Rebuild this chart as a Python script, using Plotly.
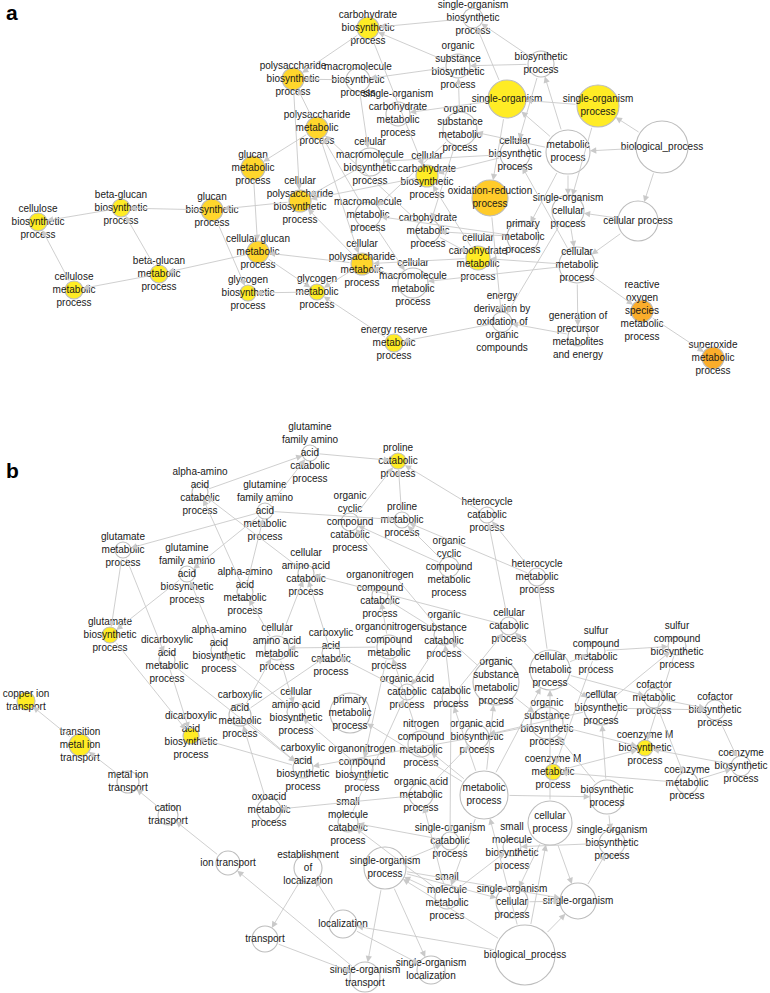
import plotly.graph_objects as go

# ---------------- Panel a data ----------------
A_LABELS = [
    "carbohydrate<br>biosynthetic<br>process",
    "single-organism<br>biosynthetic<br>process",
    "organic<br>substance<br>biosynthetic<br>process",
    "biosynthetic<br>process",
    "polysaccharide<br>biosynthetic<br>process",
    "macromolecule<br>biosynthetic<br>process",
    "single-organism",
    "single-organism<br>process",
    "single-organism<br>carbohydrate<br>metabolic<br>process",
    "polysaccharide<br>metabolic<br>process",
    "organic<br>substance<br>metabolic<br>process",
    "cellular<br>macromolecule<br>biosynthetic<br>process",
    "metabolic<br>process",
    "biological_process",
    "cellular<br>biosynthetic<br>process",
    "glucan<br>metabolic<br>process",
    "cellular<br>carbohydrate<br>biosynthetic<br>process",
    "oxidation-reduction<br>process",
    "single-organism<br>cellular<br>process",
    "cellular<br>polysaccharide<br>biosynthetic<br>process",
    "macromolecule<br>metabolic<br>process",
    "beta-glucan<br>biosynthetic<br>process",
    "glucan<br>biosynthetic<br>process",
    "cellulose<br>biosynthetic<br>process",
    "cellular process",
    "cellular glucan<br>metabolic<br>process",
    "carbohydrate<br>metabolic<br>process",
    "primary<br>metabolic<br>process",
    "cellular<br>carbohydrate<br>metabolic<br>process",
    "cellular<br>polysaccharide<br>metabolic<br>process",
    "cellular<br>macromolecule<br>metabolic<br>process",
    "cellular<br>metabolic<br>process",
    "beta-glucan<br>metabolic<br>process",
    "cellulose<br>metabolic<br>process",
    "glycogen<br>biosynthetic<br>process",
    "glycogen<br>metabolic<br>process",
    "energy<br>derivation by<br>oxidation of<br>organic<br>compounds",
    "generation of<br>precursor<br>metabolites<br>and energy",
    "reactive<br>oxygen<br>species<br>metabolic<br>process",
    "superoxide<br>metabolic<br>process",
    "energy reserve<br>metabolic<br>process",
]
# enrichment level: 0 = not enriched, 1 = yellow, 2 = gold, 3 = dark gold, 4 = orange
A_LEVEL = [1, 0, 0, 0, 2, 0, 1, 1, 0, 2, 0, 0, 0, 0, 0, 2, 1, 3, 0, 2, 0,
           1, 2, 1, 0, 2, 0, 0, 1, 2, 0, 0, 1, 1, 1, 1, 0, 0, 4, 4, 1]
# node weight (drawn as circle radius)
A_SIZE = [11, 10, 12, 13, 11, 12, 19, 21, 12, 11, 17, 14, 22, 26, 15, 12, 11, 18, 16, 11, 13,
          9, 11, 9, 20, 11, 12, 16, 12, 11, 15, 18, 9, 9, 8, 8, 10, 10, 11, 11, 9]
# layout coordinates
A_X = [368, 473, 458, 541, 293, 358, 507, 598, 398, 317, 460, 370, 568, 662, 515, 253, 427, 490, 568, 300, 368,
       121, 212, 38, 638, 258, 428, 523, 478, 362, 413, 577, 159, 74, 248, 317, 502, 578, 642, 713, 394]
A_Y = [28, 18, 66, 64, 79, 80, 99, 106, 114, 128, 129, 162, 152, 147, 154, 168, 176, 198, 211, 201, 215,
       208, 210, 222, 221, 252, 231, 237, 258, 264, 283, 265, 274, 290, 293, 292, 322, 336, 311, 358, 343]

A_EDGES = [
    ("biological_process", "metabolic process"),
    ("biological_process", "single-organism process"),
    ("biological_process", "cellular process"),
    ("single-organism process", "single-organism"),
    ("metabolic process", "single-organism"),
    ("metabolic process", "biosynthetic process"),
    ("metabolic process", "organic substance metabolic process"),
    ("metabolic process", "primary metabolic process"),
    ("metabolic process", "single-organism cellular process"),
    ("single-organism process", "single-organism cellular process"),
    ("cellular process", "single-organism cellular process"),
    ("cellular process", "cellular metabolic process"),
    ("single-organism cellular process", "cellular metabolic process"),
    ("biosynthetic process", "cellular biosynthetic process"),
    ("biosynthetic process", "organic substance biosynthetic process"),
    ("biosynthetic process", "single-organism biosynthetic process"),
    ("single-organism", "single-organism biosynthetic process"),
    ("single-organism biosynthetic process", "carbohydrate biosynthetic process"),
    ("organic substance biosynthetic process", "carbohydrate biosynthetic process"),
    ("organic substance biosynthetic process", "macromolecule biosynthetic process"),
    ("organic substance metabolic process", "organic substance biosynthetic process"),
    ("carbohydrate biosynthetic process", "polysaccharide biosynthetic process"),
    ("macromolecule biosynthetic process", "polysaccharide biosynthetic process"),
    ("macromolecule biosynthetic process", "cellular macromolecule biosynthetic process"),
    ("cellular biosynthetic process", "cellular macromolecule biosynthetic process"),
    ("polysaccharide biosynthetic process", "cellular polysaccharide biosynthetic process"),
    ("polysaccharide metabolic process", "polysaccharide biosynthetic process"),
    ("polysaccharide metabolic process", "glucan metabolic process"),
    ("polysaccharide metabolic process", "cellular polysaccharide metabolic process"),
    ("carbohydrate metabolic process", "polysaccharide metabolic process"),
    ("single-organism", "single-organism carbohydrate metabolic process"),
    ("glucan metabolic process", "cellular glucan metabolic process"),
    ("glucan biosynthetic process", "beta-glucan biosynthetic process"),
    ("beta-glucan biosynthetic process", "cellulose biosynthetic process"),
    ("beta-glucan metabolic process", "beta-glucan biosynthetic process"),
    ("cellulose metabolic process", "cellulose biosynthetic process"),
    ("beta-glucan metabolic process", "cellulose metabolic process"),
    ("cellular glucan metabolic process", "beta-glucan metabolic process"),
    ("glucan biosynthetic process", "glycogen biosynthetic process"),
    ("cellular glucan metabolic process", "glycogen metabolic process"),
    ("glycogen metabolic process", "glycogen biosynthetic process"),
    ("cellular polysaccharide biosynthetic process", "glucan biosynthetic process"),
    ("cellular carbohydrate biosynthetic process", "cellular polysaccharide biosynthetic process"),
    ("cellular polysaccharide metabolic process", "cellular glucan metabolic process"),
    ("cellular polysaccharide metabolic process", "cellular polysaccharide biosynthetic process"),
    ("cellular polysaccharide metabolic process", "glycogen metabolic process"),
    ("energy reserve metabolic process", "glycogen metabolic process"),
    ("energy derivation by oxidation of organic compounds", "energy reserve metabolic process"),
    ("generation of precursor metabolites and energy", "energy derivation by oxidation of organic compounds"),
    ("cellular metabolic process", "generation of precursor metabolites and energy"),
    ("cellular metabolic process", "reactive oxygen species metabolic process"),
    ("reactive oxygen species metabolic process", "superoxide metabolic process"),
    ("oxidation-reduction process", "energy derivation by oxidation of organic compounds"),
    ("single-organism cellular process", "energy derivation by oxidation of organic compounds"),
    ("single-organism", "oxidation-reduction process"),
    ("primary metabolic process", "carbohydrate metabolic process"),
    ("carbohydrate metabolic process", "cellular carbohydrate metabolic process"),
    ("cellular metabolic process", "cellular carbohydrate metabolic process"),
    ("cellular metabolic process", "cellular macromolecule metabolic process"),
    ("organic substance metabolic process", "macromolecule metabolic process"),
    ("macromolecule metabolic process", "cellular macromolecule metabolic process"),
    ("primary metabolic process", "macromolecule metabolic process"),
    ("cellular metabolic process", "cellular biosynthetic process"),
    ("organic substance metabolic process", "carbohydrate metabolic process"),
    ("cellular biosynthetic process", "cellular carbohydrate biosynthetic process"),
    ("carbohydrate biosynthetic process", "cellular carbohydrate biosynthetic process"),
    ("cellular carbohydrate metabolic process", "cellular carbohydrate biosynthetic process"),
    ("macromolecule metabolic process", "polysaccharide metabolic process"),
    ("cellular macromolecule metabolic process", "cellular polysaccharide metabolic process"),
    ("cellular carbohydrate metabolic process", "cellular polysaccharide metabolic process"),
    ("cellular macromolecule biosynthetic process", "cellular polysaccharide biosynthetic process"),
]

# ---------------- Panel b data ----------------
B_LABELS = [
    "glutamine<br>family amino<br>acid<br>catabolic<br>process",
    "proline<br>catabolic<br>process",
    "alpha-amino<br>acid<br>catabolic<br>process",
    "glutamine<br>family amino<br>acid<br>metabolic<br>process",
    "organic<br>cyclic<br>compound<br>catabolic<br>process",
    "proline<br>metabolic<br>process",
    "heterocycle<br>catabolic<br>process",
    "glutamate<br>metabolic<br>process",
    "glutamine<br>family amino<br>acid<br>biosynthetic<br>process",
    "alpha-amino<br>acid<br>metabolic<br>process",
    "cellular<br>amino acid<br>catabolic<br>process",
    "organic<br>cyclic<br>compound<br>metabolic<br>process",
    "heterocycle<br>metabolic<br>process",
    "organonitrogen<br>compound<br>catabolic<br>process",
    "cellular<br>catabolic<br>process",
    "organic<br>substance<br>catabolic<br>process",
    "sulfur<br>compound<br>metabolic<br>process",
    "sulfur<br>compound<br>biosynthetic<br>process",
    "glutamate<br>biosynthetic<br>process",
    "dicarboxylic<br>acid<br>metabolic<br>process",
    "alpha-amino<br>acid<br>biosynthetic<br>process",
    "cellular<br>amino acid<br>metabolic<br>process",
    "carboxylic<br>acid<br>catabolic<br>process",
    "organonitrogen<br>compound<br>metabolic<br>process",
    "organic acid<br>catabolic<br>process",
    "catabolic<br>process",
    "organic<br>substance<br>metabolic<br>process",
    "cellular<br>metabolic<br>process",
    "cellular<br>biosynthetic<br>process",
    "cofactor<br>metabolic<br>process",
    "cofactor<br>biosynthetic<br>process",
    "copper ion<br>transport",
    "primary<br>metabolic<br>process",
    "carboxylic<br>acid<br>metabolic<br>process",
    "dicarboxylic<br>acid<br>biosynthetic<br>process",
    "cellular<br>amino acid<br>biosynthetic<br>process",
    "nitrogen<br>compound<br>metabolic<br>process",
    "organic acid<br>biosynthetic<br>process",
    "organic<br>substance<br>biosynthetic<br>process",
    "coenzyme M<br>biosynthetic<br>process",
    "coenzyme<br>biosynthetic<br>process",
    "transition<br>metal ion<br>transport",
    "carboxylic<br>acid<br>biosynthetic<br>process",
    "organonitrogen<br>compound<br>biosynthetic<br>process",
    "coenzyme M<br>metabolic<br>process",
    "coenzyme<br>metabolic<br>process",
    "metal ion<br>transport",
    "oxoacid<br>metabolic<br>process",
    "organic acid<br>metabolic<br>process",
    "metabolic<br>process",
    "biosynthetic<br>process",
    "cation<br>transport",
    "small<br>molecule<br>catabolic<br>process",
    "single-organism<br>catabolic<br>process",
    "small<br>molecule<br>biosynthetic<br>process",
    "cellular<br>process",
    "single-organism<br>biosynthetic<br>process",
    "ion transport",
    "establishment<br>of<br>localization",
    "single-organism<br>process",
    "small<br>molecule<br>metabolic<br>process",
    "single-organism<br>cellular<br>process",
    "single-organism",
    "localization",
    "biological_process",
    "transport",
    "single-organism<br>transport",
    "single-organism<br>localization",
]
B_LEVEL = [0, 1, 0, 0, 0, 0, 0, 0, 0, 0, 0, 0, 0, 0, 0, 0, 0, 0, 1, 0,
           0, 0, 0, 0, 0, 0, 0, 0, 0, 0, 0, 1, 0, 0, 1, 0, 0, 0, 0, 1,
           0, 1, 0, 0, 1, 0, 0, 0, 0, 0, 0, 0, 0, 0, 0, 0, 0, 0, 0, 0,
           0, 0, 0, 0, 0, 0, 0, 0]
B_SIZE = [8, 8, 8, 8, 9, 8, 8, 8, 8, 8, 8, 10, 9, 8, 9, 10, 9, 9, 8, 8,
          8, 12, 9, 12, 8, 9, 23, 20, 17, 10, 10, 9, 20, 11, 8, 9, 13, 12, 16, 8,
          10, 11, 10, 11, 8, 11, 11, 12, 12, 24, 17, 10, 10, 9, 9, 22, 13, 12, 14, 21,
          12, 16, 18, 14, 30, 13, 15, 14]
B_X = [310, 398, 200, 265, 350, 402, 487, 123, 187, 245, 306, 449, 537, 380, 509, 444, 596, 677, 110, 167,
       219, 277, 331, 389, 407, 451, 496, 550, 601, 654, 715, 26, 350, 240, 191, 296, 421, 477, 547, 645,
       741, 80, 303, 362, 553, 687, 128, 269, 421, 484, 607, 168, 348, 450, 512, 550, 612, 228, 308, 385,
       447, 512, 578, 343, 525, 265, 365, 431]
B_Y = [453, 461, 492, 511, 522, 520, 515, 550, 574, 592, 573, 567, 577, 595, 626, 635, 651, 646, 635, 660,
       650, 648, 653, 647, 692, 698, 682, 670, 708, 698, 710, 701, 713, 715, 736, 712, 744, 737, 723, 748,
       766, 745, 768, 769, 772, 783, 782, 810, 795, 795, 797, 815, 822, 841, 847, 823, 843, 863, 868, 868,
       897, 902, 901, 924, 955, 939, 977, 970]

B_EDGES = [
    ("biological_process", "single-organism process"),
    ("biological_process", "localization"),
    ("biological_process", "cellular process"),
    ("biological_process", "single-organism"),
    ("biological_process", "metabolic process"),
    ("localization", "establishment of localization"),
    ("establishment of localization", "transport"),
    ("transport", "single-organism transport"),
    ("single-organism transport", "ion transport"),
    ("single-organism process", "single-organism transport"),
    ("single-organism process", "single-organism localization"),
    ("localization", "single-organism localization"),
    ("ion transport", "cation transport"),
    ("cation transport", "metal ion transport"),
    ("metal ion transport", "transition metal ion transport"),
    ("transition metal ion transport", "copper ion transport"),
    ("small molecule metabolic process", "single-organism process"),
    ("single-organism process", "single-organism cellular process"),
    ("single-organism process", "single-organism"),
    ("single-organism process", "single-organism catabolic process"),
    ("cellular process", "single-organism cellular process"),
    ("cellular process", "single-organism"),
    ("single-organism", "single-organism biosynthetic process"),
    ("single-organism cellular process", "single-organism"),
    ("cellular process", "cellular metabolic process"),
    ("biosynthetic process", "single-organism biosynthetic process"),
    ("biosynthetic process", "cellular biosynthetic process"),
    ("biosynthetic process", "organic substance biosynthetic process"),
    ("metabolic process", "biosynthetic process"),
    ("metabolic process", "organic substance metabolic process"),
    ("metabolic process", "primary metabolic process"),
    ("metabolic process", "cellular metabolic process"),
    ("metabolic process", "small molecule metabolic process"),
    ("metabolic process", "catabolic process"),
    ("metabolic process", "nitrogen compound metabolic process"),
    ("small molecule metabolic process", "organic acid metabolic process"),
    ("cellular metabolic process", "cellular catabolic process"),
    ("cellular metabolic process", "cellular biosynthetic process"),
    ("cellular metabolic process", "sulfur compound metabolic process"),
    ("cellular metabolic process", "cofactor metabolic process"),
    ("cellular metabolic process", "heterocycle metabolic process"),
    ("organic substance metabolic process", "organic substance catabolic process"),
    ("organic substance metabolic process", "organic substance biosynthetic process"),
    ("catabolic process", "organic substance catabolic process"),
    ("catabolic process", "cellular catabolic process"),
    ("catabolic process", "single-organism catabolic process"),
    ("cellular catabolic process", "heterocycle catabolic process"),
    ("heterocycle catabolic process", "proline catabolic process"),
    ("heterocycle metabolic process", "heterocycle catabolic process"),
    ("heterocycle metabolic process", "proline metabolic process"),
    ("organic cyclic compound metabolic process", "organic cyclic compound catabolic process"),
    ("organic cyclic compound metabolic process", "proline metabolic process"),
    ("organic substance catabolic process", "organic cyclic compound catabolic process"),
    ("organic cyclic compound catabolic process", "proline catabolic process"),
    ("proline metabolic process", "proline catabolic process"),
    ("glutamine family amino acid catabolic process", "proline catabolic process"),
    ("alpha-amino acid catabolic process", "glutamine family amino acid catabolic process"),
    ("glutamine family amino acid metabolic process", "glutamine family amino acid catabolic process"),
    ("glutamine family amino acid metabolic process", "proline metabolic process"),
    ("glutamine family amino acid metabolic process", "glutamate metabolic process"),
    ("glutamine family amino acid metabolic process", "glutamine family amino acid biosynthetic process"),
    ("alpha-amino acid metabolic process", "glutamine family amino acid metabolic process"),
    ("alpha-amino acid metabolic process", "alpha-amino acid catabolic process"),
    ("cellular amino acid catabolic process", "alpha-amino acid catabolic process"),
    ("glutamate metabolic process", "glutamate biosynthetic process"),
    ("glutamate metabolic process", "dicarboxylic acid metabolic process"),
    ("glutamine family amino acid biosynthetic process", "glutamate biosynthetic process"),
    ("alpha-amino acid biosynthetic process", "glutamine family amino acid biosynthetic process"),
    ("glutamate biosynthetic process", "dicarboxylic acid biosynthetic process"),
    ("dicarboxylic acid metabolic process", "dicarboxylic acid biosynthetic process"),
    ("carboxylic acid biosynthetic process", "dicarboxylic acid biosynthetic process"),
    ("dicarboxylic acid metabolic process", "carboxylic acid biosynthetic process"),
    ("carboxylic acid metabolic process", "carboxylic acid biosynthetic process"),
    ("carboxylic acid metabolic process", "carboxylic acid catabolic process"),
    ("carboxylic acid metabolic process", "cellular amino acid metabolic process"),
    ("oxoacid metabolic process", "carboxylic acid metabolic process"),
    ("organic acid metabolic process", "oxoacid metabolic process"),
    ("organic acid metabolic process", "organic acid biosynthetic process"),
    ("cellular amino acid metabolic process", "alpha-amino acid metabolic process"),
    ("cellular amino acid metabolic process", "cellular amino acid catabolic process"),
    ("cellular amino acid metabolic process", "cellular amino acid biosynthetic process"),
    ("carboxylic acid catabolic process", "cellular amino acid catabolic process"),
    ("organonitrogen compound metabolic process", "cellular amino acid metabolic process"),
    ("organonitrogen compound metabolic process", "organonitrogen compound catabolic process"),
    ("organonitrogen compound metabolic process", "organonitrogen compound biosynthetic process"),
    ("nitrogen compound metabolic process", "organonitrogen compound metabolic process"),
    ("cellular amino acid biosynthetic process", "alpha-amino acid biosynthetic process"),
    ("organic acid biosynthetic process", "carboxylic acid biosynthetic process"),
    ("organonitrogen compound biosynthetic process", "cellular amino acid biosynthetic process"),
    ("cellular biosynthetic process", "organic acid biosynthetic process"),
    ("organic substance biosynthetic process", "organic acid biosynthetic process"),
    ("organic substance biosynthetic process", "coenzyme M biosynthetic process"),
    ("coenzyme M metabolic process", "coenzyme M biosynthetic process"),
    ("cofactor metabolic process", "coenzyme metabolic process"),
    ("cofactor metabolic process", "cofactor biosynthetic process"),
    ("cofactor biosynthetic process", "coenzyme biosynthetic process"),
    ("coenzyme metabolic process", "coenzyme biosynthetic process"),
    ("coenzyme metabolic process", "coenzyme M metabolic process"),
    ("coenzyme biosynthetic process", "coenzyme M biosynthetic process"),
    ("sulfur compound metabolic process", "sulfur compound biosynthetic process"),
    ("sulfur compound metabolic process", "coenzyme M metabolic process"),
    ("sulfur compound biosynthetic process", "coenzyme M biosynthetic process"),
    ("cellular biosynthetic process", "sulfur compound biosynthetic process"),
    ("cellular biosynthetic process", "cofactor biosynthetic process"),
    ("small molecule metabolic process", "small molecule biosynthetic process"),
    ("small molecule metabolic process", "small molecule catabolic process"),
    ("single-organism catabolic process", "small molecule catabolic process"),
    ("small molecule catabolic process", "organic acid catabolic process"),
    ("organic acid catabolic process", "carboxylic acid catabolic process"),
    ("organic substance catabolic process", "organic acid catabolic process"),
    ("organic substance catabolic process", "organonitrogen compound catabolic process"),
    ("cellular catabolic process", "cellular amino acid catabolic process"),
    ("single-organism biosynthetic process", "small molecule biosynthetic process"),
]

PANEL_LETTERS = ["a", "b"]
PANEL_LETTER_Y = [12, 470]

# ---------------- styles ----------------
LEVEL_COLORS = {0: "#FFFFFF", 1: "#FFEC25", 2: "#FFD62C", 3: "#FFCB2A", 4: "#FBAD2B"}
EDGE_COLOR = "#C9C9C9"
OUTLINE = "#BDBDBD"
FONT = "Liberation Sans, Arial, sans-serif"

fig = go.Figure()


def add_panel(labels, level, size, xs, ys, edges):
    names = [l.replace("<br>", " ") for l in labels]
    idx = {n: i for i, n in enumerate(names)}
    # nodes
    fig.add_trace(go.Scatter(
        x=xs, y=ys, mode="markers",
        marker=dict(size=[2 * s for s in size],
                    color=[LEVEL_COLORS[v] for v in level],
                    line=dict(color=OUTLINE, width=1.1), opacity=1),
        hoverinfo="skip", showlegend=False))
    # edges with arrowheads at the target
    for s, t in edges:
        i, j = idx[s], idx[t]
        fig.add_annotation(
            x=xs[j], y=ys[j], ax=xs[i], ay=ys[i],
            xref="x", yref="y", axref="x", ayref="y",
            text="", showarrow=True, arrowhead=2, arrowsize=1.4,
            arrowwidth=0.9, arrowcolor=EDGE_COLOR,
            standoff=size[j], startstandoff=size[i])
    # labels
    fig.add_trace(go.Scatter(
        x=xs, y=ys, mode="text", text=labels,
        textposition="middle center",
        textfont=dict(family=FONT, size=10, color="#1a1a1a"),
        hoverinfo="skip", showlegend=False))


add_panel(A_LABELS, A_LEVEL, A_SIZE, A_X, A_Y, A_EDGES)
add_panel(B_LABELS, B_LEVEL, B_SIZE, B_X, B_Y, B_EDGES)

for letter, ly in zip(PANEL_LETTERS, PANEL_LETTER_Y):
    fig.add_annotation(x=12, y=ly, xref="x", yref="y", text="<b>%s</b>" % letter,
                       showarrow=False, font=dict(family=FONT, size=21, color="#000000"))

fig.update_xaxes(range=[0, 770], visible=False, fixedrange=True)
fig.update_yaxes(range=[993, 0], visible=False, fixedrange=True)
fig.update_layout(width=770, height=993, margin=dict(l=0, r=0, t=0, b=0),
                  plot_bgcolor="white", paper_bgcolor="white")

fig.write_html("out.html", config={"displayModeBar": False},
               post_script="document.body.style.margin='0';document.body.style.overflow='hidden';")
